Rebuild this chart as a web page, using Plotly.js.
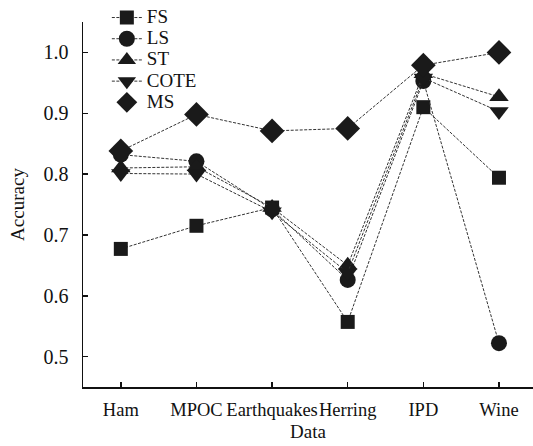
<!DOCTYPE html>
<html><head><meta charset="utf-8">
<script src="https://cdn.plot.ly/plotly-3.0.1.min.js"></script>
<style>body{margin:0;background:#fff}#c{width:533px;height:446px}</style>
</head><body><div id="c"></div>
<script>
const categories = ["Ham", "MPOC", "Earthquakes", "Herring", "IPD", "Wine"];
const FS   = [0.677, 0.715, 0.745, 0.557, 0.910, 0.794];
const LS   = [0.832, 0.821, 0.742, 0.626, 0.953, 0.522];
const ST   = [0.810, 0.812, 0.745, 0.650, 0.965, 0.927];
const COTE = [0.801, 0.800, 0.738, 0.638, 0.958, 0.903];
const MS   = [0.838, 0.898, 0.871, 0.875, 0.979, 1.000];
const seriesNames = ["FS", "LS", "ST", "COTE", "MS"];
const seriesData = [FS, LS, ST, COTE, MS];
const symbols = ["square", "circle", "triangle-up", "triangle-down", "diamond"];
const sizes = [14, 16, 17, 17, 19];

const xs = categories.map((c, i) => i);
const legendName = n => '<span style="font-size:19px">' + n + '</span>';
const traces = [];
seriesData.forEach((ys, k) => {
  const isMS = seriesNames[k] === "MS";
  traces.push({
    x: xs, y: ys, type: "scatter", mode: "lines+markers",
    name: legendName(seriesNames[k]), showlegend: !isMS,
    line: {color: "#333", width: 1, dash: "3px,1.5px"},
    marker: {symbol: symbols[k], size: sizes[k], color: "#1a1a1a", line: {width: 0}}
  });
  if (isMS) {
    traces.push({
      x: [null], y: [null], type: "scatter", mode: "markers",
      name: legendName(seriesNames[k]), showlegend: true,
      marker: {symbol: symbols[k], size: sizes[k], color: "#1a1a1a", line: {width: 0}}
    });
  }
});

const font = {family: "Liberation Serif", size: 19, color: "#111"};
const tickfont = {family: "Liberation Serif", size: 18.5, color: "#111"};
const layout = {
  width: 533, height: 446,
  margin: {l: 83, r: 0, t: 22, b: 59, autoexpand: false},
  paper_bgcolor: "#fff", plot_bgcolor: "#fff",
  font: font,
  showlegend: true,
  legend: {x: 0.053, y: 1.055, xanchor: "left", yanchor: "top",
           bgcolor: "rgba(0,0,0,0)", font: {family: "Liberation Serif", size: 14, color: "#111"},
           itemwidth: 30, tracegroupgap: 0, traceorder: "normal"},
  xaxis: {
    range: [-0.5, 5.45], tickmode: "array", tickvals: xs, ticktext: categories, tickangle: 0,
    showgrid: false, zeroline: false, showline: true, linecolor: "#111", linewidth: 1.5,
    ticks: "inside", ticklen: 5, tickcolor: "#111", tickwidth: 1.5, ticklabelstandoff: 5,
    automargin: false,
    title: {text: "Data", font: font, standoff: 6}, tickfont: tickfont
  },
  yaxis: {
    range: [0.45, 1.05], tickmode: "array", tickvals: [0.5, 0.6, 0.7, 0.8, 0.9, 1.0],
    ticktext: ["0.5", "0.6", "0.7", "0.8", "0.9", "1.0"],
    showgrid: false, zeroline: false, showline: true, linecolor: "#111", linewidth: 1.5,
    ticks: "inside", ticklen: 5, tickcolor: "#111", tickwidth: 1.5, ticklabelstandoff: 9,
    automargin: false,
    title: {text: "Accuracy", font: font, standoff: 14}, tickfont: {family: "Liberation Serif", size: 20, color: "#111"}
  }
};
Plotly.newPlot("c", traces, layout, {displayModeBar: false, staticPlot: true});
</script></body></html>
